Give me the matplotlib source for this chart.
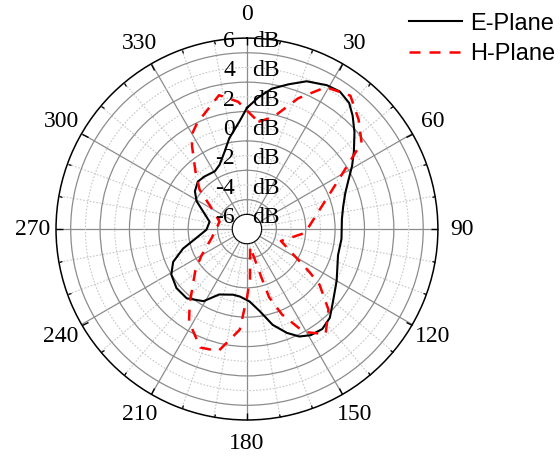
import numpy as np
import matplotlib
matplotlib.use("Agg")
import matplotlib.pyplot as plt
from matplotlib.ticker import FixedLocator

# ---------------- data (angle in degrees, gain in dB) ----------------
e_angles = [0, 5, 10, 16, 22, 29, 34, 39, 43, 48, 54, 59, 64, 70, 77, 84, 96, 106,
            120, 130, 137, 143, 149, 154, 159, 165, 171, 178, 186, 192, 203, 211,
            221, 230, 239, 246, 253, 260, 269, 281, 292, 299, 306, 314, 321, 331,
            337, 344, 349, 356, 360]
e_db = [1.25, 2.0, 2.7, 3.25, 3.85, 4.2, 4.3, 4.05, 3.55, 2.85, 2.0, 1.35, 0.7,
        0.12, -0.28, -0.5, -0.53, -0.55, 0.05, 0.65, 1.27, 1.52, 1.43, 1.14, 0.57,
        -0.25, -1.32, -2.07, -2.38, -2.43, -2.16, -1.27, -0.75, -0.74, -0.99, -1.5,
        -2.45, -3.5, -4.24, -4.41, -3.77, -3.08, -2.62, -2.35, -2.4, -2.5, -2.24,
        -1.5, -0.7, 0.34, 1.25]

h_angles = [6.1, 13.4, 21.4, 29.1, 37.8, 45.6, 53.0, 61.7, 93.8, 109.3, 124.6,
            127.5, 134.7, 143.2, 151.1, 157.7, 162.0, 163.4, 169.8, 176.5, 179.8,
            184.1, 193.2, 201.5, 212.0, 217.5, 231.3, 239.7, 256.7, 285.0, 296.3,
            309.7, 318.2, 326.4, 329.6, 334.8, 348.2, 356.0, 366.1]
h_db = [0.34, 0.86, 2.56, 4.06, 4.49, 3.64, 2.77, 0.09, -3.04, -4.55, -1.82,
        -0.77, 0.81, 1.94, 1.0, -0.71, -2.12, -3.58, -5.78, -3.61, -2.41, -0.13,
        1.54, 1.67, 0.44, -0.59, -2.5, -3.41, -4.56, -5.07, -4.55, -2.81, -1.74,
        -0.25, 0.44, 0.97, 2.31, 1.69, 0.34]

theta_major = list(range(0, 360, 30))
theta_minor = [a for a in range(0, 360, 10) if a % 30 != 0]
r_label_values = [6, 4, 2, 0, -2, -4, -6]
r_solid = [-5, -3, -1, 1, 3, 5]
r_dotted = [-6, -4, -2, 0, 2, 4]

serif = ["Liberation Serif", "DejaVu Serif"]
sans = ["Liberation Sans", "DejaVu Sans"]

fig = plt.figure(figsize=(5.6, 4.59), dpi=100)
ax = fig.add_axes([0.1, 0.085, 0.682, 0.832], projection="polar")
ax.set_theta_zero_location("N")
ax.set_theta_direction(-1)
ax.set_rorigin(-7)
ax.set_rlim(-6, 6)

# radial grid
ax.yaxis.set_major_locator(FixedLocator(r_solid))
ax.yaxis.set_minor_locator(FixedLocator(r_dotted))
ax.set_yticklabels([])
ax.yaxis.set_tick_params(which="both", labelleft=False, labelright=False)
ax.yaxis.grid(True, which="major", color="#8c8c8c", lw=0.9, ls="-")
ax.yaxis.grid(True, which="minor", color="#c8c8c8", lw=0.8, ls=(0, (1.5, 1.5)))

# angular grid
ax.xaxis.set_major_locator(FixedLocator(np.deg2rad(theta_major)))
ax.xaxis.set_minor_locator(FixedLocator(np.deg2rad(theta_minor)))
ax.set_xticklabels([str(a) for a in theta_major], family=serif, fontsize=17)
ax.xaxis.grid(True, which="major", color="#8c8c8c", lw=0.9, ls="-")
ax.xaxis.grid(True, which="minor", color="#c8c8c8", lw=0.8, ls=(0, (1.5, 1.5)))
ax.tick_params(axis="x", which="major", direction="in", length=5, width=1.0,
               color="black", pad=10)
ax.tick_params(axis="x", which="minor", direction="in", length=2.5, width=0.9,
               color="black")
ax.tick_params(axis="x", which="both", top=True, bottom=False)
ax.spines["polar"].set_color("black")
ax.spines["polar"].set_linewidth(1.1)
ax.spines["inner"].set_visible(False)

# data
ax.plot(np.deg2rad(e_angles), e_db, color="black", lw=1.5, label="E-Plane", zorder=5)
hl, = ax.plot(np.deg2rad(h_angles), h_db, color="#ff0000", lw=1.8, label="H-Plane",
              zorder=6)
hl.set_dashes((4.4, 3.6))

# radial labels
for v in r_label_values:
    ax.annotate(str(v), xy=(0, v), xytext=(-8.5, -6.3), textcoords="offset points",
                ha="right", va="baseline", family=serif, fontsize=17, zorder=10)
    ax.annotate("dB", xy=(0, v), xytext=(4.0, -6.3), textcoords="offset points",
                ha="left", va="baseline", family=serif, fontsize=17, zorder=10)

leg = fig.legend(loc="upper right", bbox_to_anchor=(1.0, 0.983), frameon=False,
                 prop={"family": sans, "size": 17}, handlelength=2.25,
                 handletextpad=0.35, labelspacing=0.35, borderaxespad=0.1,
                 borderpad=0.1)

fig.savefig("out.png", dpi=100)
